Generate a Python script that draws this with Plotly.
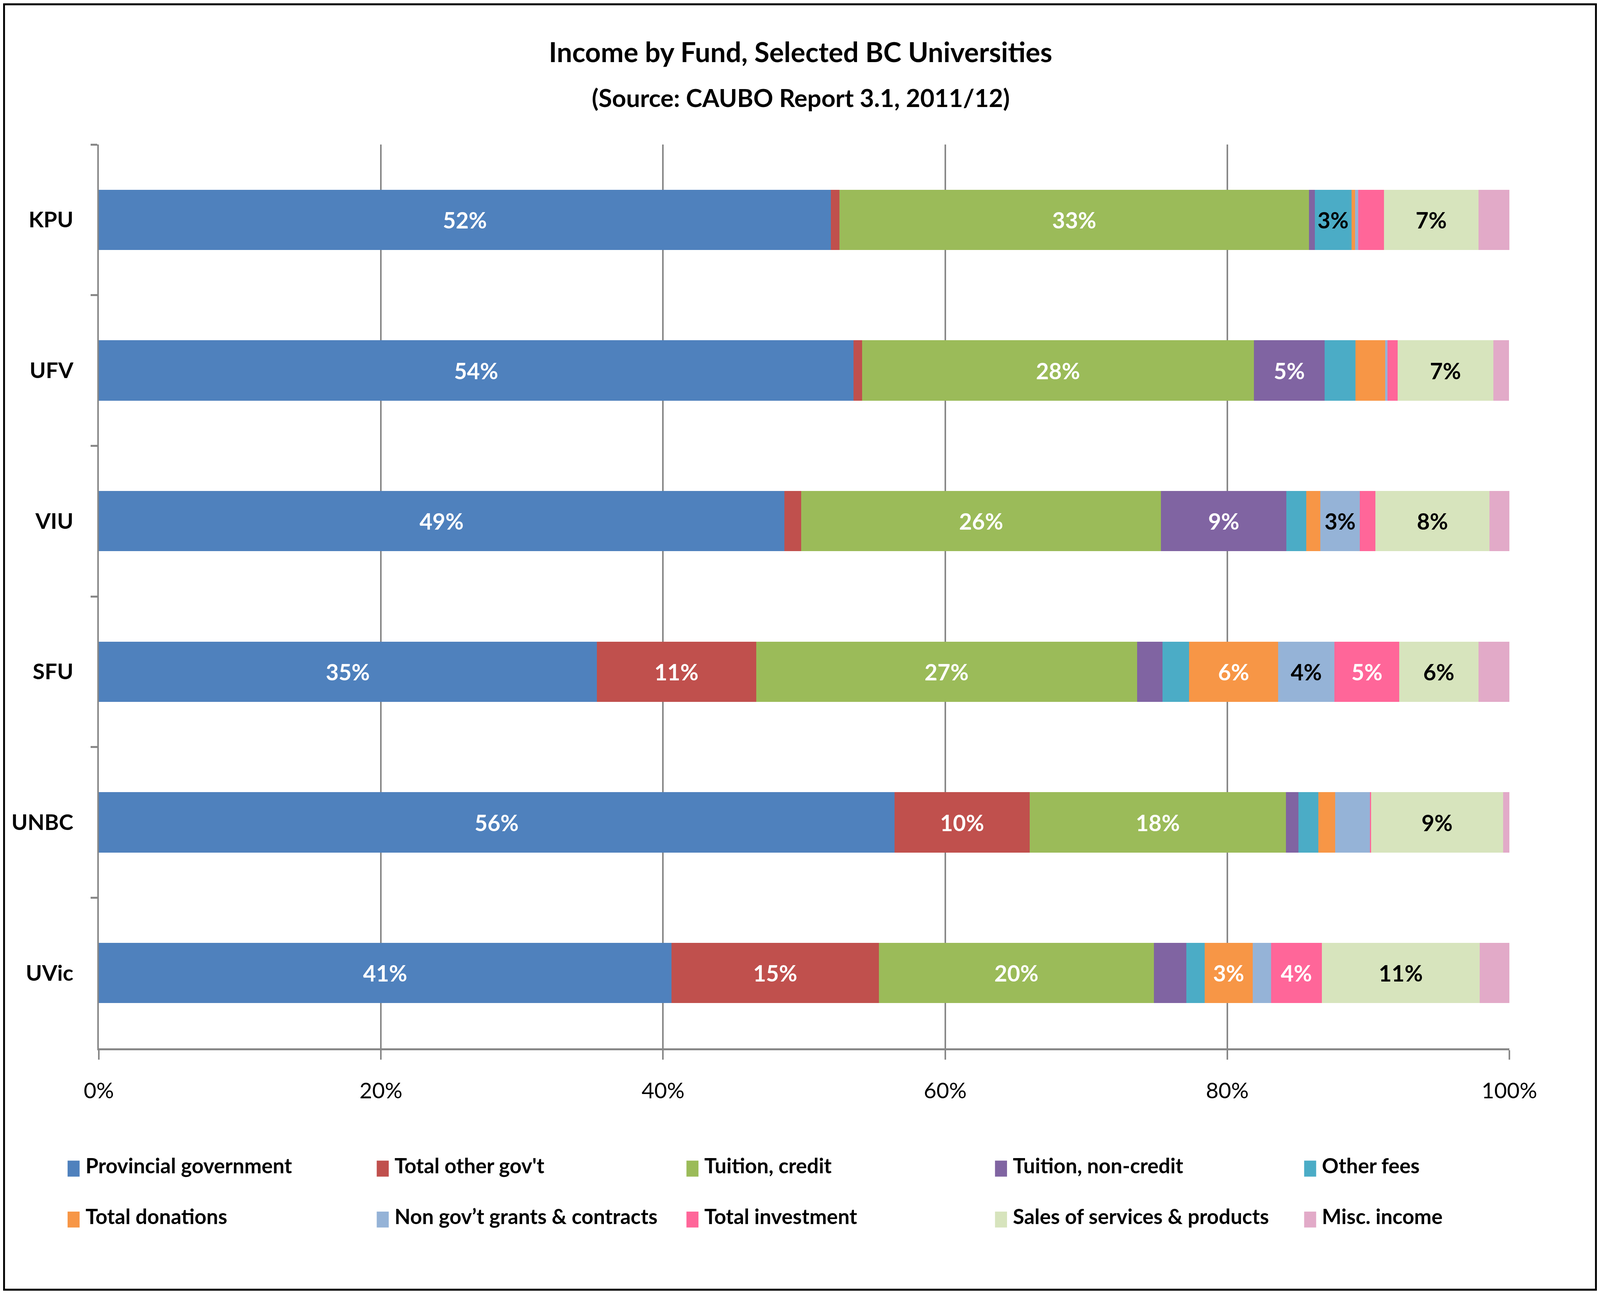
import plotly.graph_objects as go

# ---------------- data ----------------
universities = ["KPU", "UFV", "VIU", "SFU", "UNBC", "UVic"]
series_names = [
    "Provincial government", "Total other gov't", "Tuition, credit",
    "Tuition, non-credit", "Other fees", "Total donations",
    "Non gov\u2019t grants & contracts", "Total investment",
    "Sales of services & products", "Misc. income",
]
provincial_government = [51.9, 53.5, 48.6, 35.3, 56.4, 40.6]
total_other_govt      = [0.6, 0.6, 1.2, 11.3, 9.6, 14.7]
tuition_credit        = [33.3, 27.8, 25.5, 27.0, 18.15, 19.5]
tuition_non_credit    = [0.4, 5.0, 8.9, 1.8, 0.9, 2.3]
other_fees            = [2.6, 2.2, 1.4, 1.9, 1.4, 1.3]
total_donations       = [0.26, 2.1, 1.0, 6.3, 1.2, 3.4]
non_govt_grants       = [0.23, 0.17, 2.8, 4.0, 2.45, 1.3]
total_investment      = [1.83, 0.7, 1.1, 4.6, 0.1, 3.6]
sales_services        = [6.68, 6.8, 8.1, 5.6, 9.35, 11.2]
misc_income           = [2.19, 1.1, 1.4, 2.2, 0.5, 2.1]
x_tick_values = [0, 20, 40, 60, 80, 100]
x_tick_labels = ["0%", "20%", "40%", "60%", "80%", "100%"]

series_values = [
    provincial_government, total_other_govt, tuition_credit, tuition_non_credit,
    other_fees, total_donations, non_govt_grants, total_investment,
    sales_services, misc_income,
]
colors = ["#4F81BD", "#C0504D", "#9BBB59", "#8064A2", "#4BACC6",
          "#F79646", "#95B3D7", "#FF6699", "#D7E4BD", "#E2AAC8"]
label_colors = ["white", "white", "white", "white", "black",
                "white", "black", "white", "black", "black"]

FONT = "Lato"
# the browser viewport is 4096 x 3313 px and the page body has an 8 px margin,
# so the figure is sized to fit inside it; positions are scaled from the reference
REF_W, REF_H = 5439, 3313
W, H = 4080, 3297
SX = W / REF_W
SY = H / REF_H
ML = round(326 * SX)
MR = round(299 * SX)
MT = round(364 * SY)
MB = round(624 * SY)
PW, PH = W - ML - MR, H - MT - MB


def px(x_ref):
    return (x_ref * SX - ML) / PW


def py(y_ref):
    return (H - MB - y_ref * SY) / PH


fig = go.Figure()
for name, vals, col, tcol in zip(series_names, series_values, colors, label_colors):
    labels = []
    for v in vals:
        r = int(v + 0.5)
        labels.append(f"{r}%" if r >= 3 else "")
    fig.add_trace(go.Bar(
        name=name, y=universities, x=vals, orientation="h",
        marker=dict(color=col, line=dict(width=0)),
        text=labels, textposition="inside", insidetextanchor="middle",
        textangle=0, constraintext="none",
        textfont=dict(family=FONT, size=57, color=tcol, weight="bold"),
        showlegend=False,
    ))

shapes = []
annotations = []

# legend (two rows, five columns, large square keys)
col_x = [220, 1275, 2332, 3385, 4440]
row_y = [2998, 3129]
for i, (name, col) in enumerate(zip(series_names, colors)):
    r, c = divmod(i, 5)
    x0 = col_x[c]
    yc = row_y[r]
    shapes.append(dict(type="rect", xref="paper", yref="paper",
                       x0=px(x0), x1=px(x0 + 41), y0=py(yc + 21), y1=py(yc - 20),
                       fillcolor=col, line=dict(width=0)))
    annotations.append(dict(text=name, xref="paper", yref="paper",
                            x=px(x0 + 58), y=py(yc - 8), xanchor="left", yanchor="middle",
                            showarrow=False,
                            font=dict(family=FONT, size=53, color="black", weight="bold")))

# titles
annotations.append(dict(text="Income by Fund, Selected BC Universities", xref="paper", yref="paper",
                        x=px(2722), y=py(125), xanchor="center", yanchor="middle", showarrow=False,
                        font=dict(family=FONT, size=70, color="black", weight="bold")))
annotations.append(dict(text="(Source: CAUBO Report 3.1, 2011/12)", xref="paper", yref="paper",
                        x=px(2722), y=py(243), xanchor="center", yanchor="middle", showarrow=False,
                        font=dict(family=FONT, size=63, color="black", weight="bold")))

# chart border
shapes.append(dict(type="rect", xref="paper", yref="paper",
                   x0=px(3), x1=px(REF_W - 3), y0=py(REF_H - 3), y1=py(3),
                   line=dict(color="black", width=5), fillcolor="rgba(0,0,0,0)", layer="above"))

fig.update_layout(
    width=W, height=H,
    margin=dict(l=ML, r=MR, t=MT, b=MB, pad=0),
    barmode="stack", bargap=0.6,
    plot_bgcolor="white", paper_bgcolor="white",
    font=dict(family=FONT, color="black"),
    shapes=shapes, annotations=annotations,
    showlegend=False,
)
fig.update_xaxes(
    range=[0, 100], tickvals=x_tick_values, ticktext=x_tick_labels,
    showgrid=True, gridcolor="#878787", gridwidth=4,
    showline=True, linecolor="#878787", linewidth=5,
    ticks="outside", ticklen=24, tickwidth=4, tickcolor="#878787",
    ticklabelstandoff=32,
    tickfont=dict(family=FONT, size=56, color="black"),
    zeroline=False, fixedrange=True,
)
fig.update_yaxes(
    categoryorder="array", categoryarray=universities, autorange="reversed",
    showline=True, linecolor="#878787", linewidth=4,
    ticks="outside", ticklen=17, tickwidth=5, tickcolor="#878787",
    tickson="boundaries", ticklabelstandoff=50,
    tickfont=dict(family=FONT, size=56, color="black", weight="bold"),
    showgrid=False, zeroline=False, fixedrange=True,
)

fig.write_html("out.html")
